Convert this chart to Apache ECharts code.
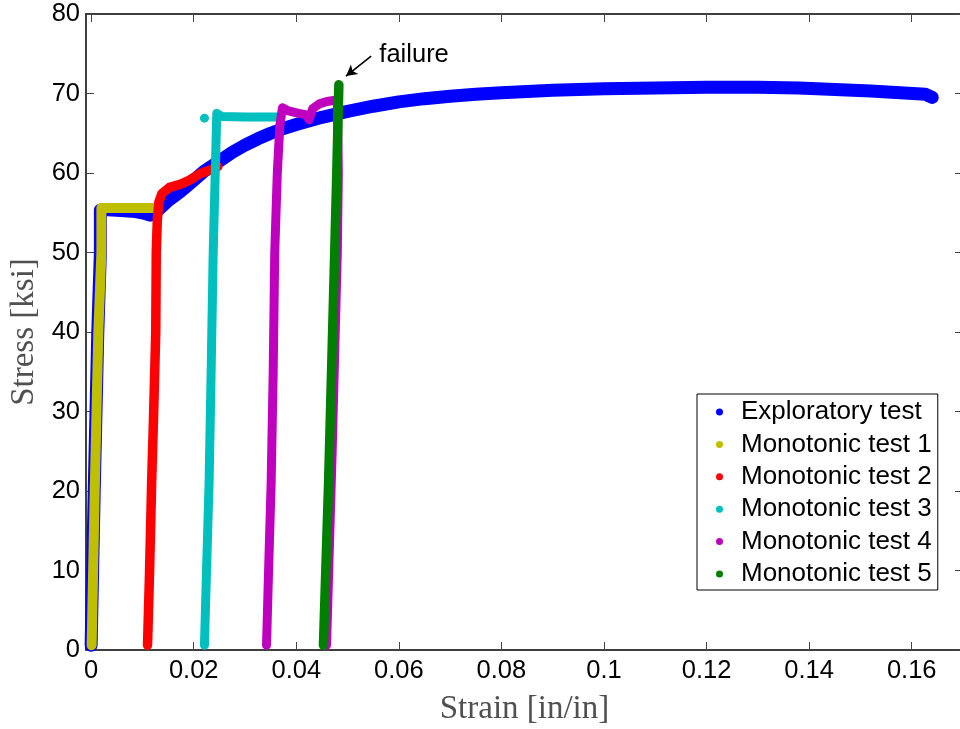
<!DOCTYPE html>
<html>
<head>
<meta charset="utf-8">
<script src="https://cdn.jsdelivr.net/npm/echarts@6/dist/echarts.min.js"></script>
<style>
  html, body { margin: 0; padding: 0; background: #fff; }
  #chart { width: 960px; height: 729px; }
</style>
</head>
<body>
<div id="chart"></div>
<script>
// Stress–strain records, [strain (in/in), stress (ksi)]
const exploratoryTest = [
  [0, 0.6], [0.0006, 20], [0.0013, 40], [0.0018, 50],
  [0.0018, 55.3], [0.0025, 55.4], [0.005, 55.3], [0.008, 55.2], [0.010, 55.0],
  [0.0115, 54.7], [0.0125, 55.0], [0.015, 56.5], [0.0173, 57.6], [0.0186, 58.3],
  [0.022, 60.2], [0.025, 61.5], [0.0275, 62.6], [0.03, 63.5], [0.0325, 64.3],
  [0.035, 65.0], [0.0375, 65.6], [0.04, 66.1], [0.045, 67.0], [0.05, 67.75],
  [0.055, 68.4], [0.06, 68.95], [0.065, 69.35], [0.07, 69.65], [0.075, 69.9],
  [0.08, 70.1], [0.09, 70.4], [0.1, 70.6], [0.11, 70.7], [0.12, 70.8],
  [0.13, 70.8], [0.138, 70.7], [0.145, 70.5], [0.152, 70.3], [0.1627, 69.9],
  [0.164, 69.5]
];
const monotonic1 = [
  [0.0001, 0.6], [0.0007, 20], [0.0014, 40], [0.002, 50], [0.002, 55.6],
  [0.004, 55.6], [0.008, 55.6], [0.0124, 55.6]
];
const monotonic2 = [
  [0.011, 0.6], [0.0114, 10], [0.0118, 21], [0.0122, 30], [0.0126, 40],
  [0.0127, 50], [0.0129, 54], [0.0132, 56.3], [0.0138, 57.4], [0.0153, 58.2],
  [0.0175, 58.6], [0.0192, 59.1], [0.0212, 59.9], [0.0238, 60.5], [0.0247, 60.8]
];
const monotonic3 = [
  [0.0221, 0.6], [0.0225, 10], [0.023, 21], [0.0234, 35], [0.0238, 50],
  [0.0242, 60], [0.0245, 67.5], [0.0255, 67.1], [0.03, 67.05], [0.0364, 67.05]
];
const monotonic3Stray = [0.0221, 66.9];
const monotonic4 = [
  [0.0342, 0.6], [0.0346, 10], [0.0351, 21], [0.0355, 35], [0.0358, 50],
  [0.0363, 60], [0.0368, 66], [0.0373, 68.2], [0.0385, 67.8], [0.0405, 67.5],
  [0.042, 67.3], [0.0425, 66.7], [0.0432, 68.1], [0.0445, 68.7], [0.046, 69.0],
  [0.048, 69.2], [0.0482, 60], [0.048, 50], [0.047, 25], [0.0459, 0.6]
];
const monotonic5 = [
  [0.0453, 0.6], [0.0463, 21], [0.0475, 50], [0.0479, 60], [0.0483, 71.1]
];

const seriesNames = [
  'Exploratory test', 'Monotonic test 1', 'Monotonic test 2',
  'Monotonic test 3', 'Monotonic test 4', 'Monotonic test 5'
];
const seriesColors = ['#0000ff', '#bfbf00', '#ff0000', '#00bfbf', '#bf00bf', '#007f00'];

const xTicks = [0, 0.02, 0.04, 0.06, 0.08, 0.1, 0.12, 0.14, 0.16];
const failureArrow = [[0.0546, 74.7], [0.0497, 72.2]];
const failureLabelAt = [0.0561, 74.8];

const tickFont = 'Liberation Sans, Arial, sans-serif';
const titleFont = 'Liberation Serif, Times New Roman, serif';

function lineSeries(name, data, color, width, extra) {
  return Object.assign({
    name: name,
    type: 'line',
    data: data,
    showSymbol: false,
    symbol: 'circle',
    clip: false,
    animation: false,
    itemStyle: { color: color },
    lineStyle: { color: color, width: width, cap: 'round', join: 'round' },
    emphasis: { disabled: true }
  }, extra || {});
}

const chart = echarts.init(document.getElementById('chart'), null, { renderer: 'canvas' });

const xAxisBase = {
  type: 'value', min: -0.001, max: 0.17,
  splitLine: { show: false },
  axisLine: { show: true, onZero: false, lineStyle: { color: '#000', width: 1.5 } },
  axisTick: { show: true, inside: true, length: 8, customValues: xTicks,
              lineStyle: { color: '#444', width: 1 } }
};
const yAxisBase = {
  type: 'value', min: 0, max: 80, interval: 10,
  splitLine: { show: false },
  axisLine: { show: true, onZero: false, lineStyle: { color: '#000', width: 1.5 } },
  axisTick: { show: true, inside: true, length: 8, lineStyle: { color: '#444', width: 1 } }
};

chart.setOption({
  backgroundColor: '#fff',
  animation: false,
  grid: { left: 86, top: 14, width: 877, height: 636, outerBoundsMode: 'none', containLabel: false },
  legend: {
    orient: 'vertical',
    left: 697, top: 394,
    backgroundColor: '#fff',
    borderColor: '#000', borderWidth: 1,
    padding: [5, 6, 3, 19],
    icon: 'circle',
    itemWidth: 33, itemHeight: 7, itemGap: 6.4,
    textStyle: { fontFamily: tickFont, fontSize: 26, lineHeight: 26, color: '#000' },
    data: seriesNames,
    selectedMode: false
  },
  xAxis: [
    Object.assign({}, xAxisBase, {
      position: 'bottom',
      name: 'Strain [in/in]', nameLocation: 'middle', nameGap: 43,
      nameTextStyle: { fontFamily: titleFont, fontSize: 33, color: '#505050' },
      axisLabel: { show: true, customValues: xTicks, margin: 8,
                   fontFamily: tickFont, fontSize: 25.5, color: '#000' }
    }),
    Object.assign({}, xAxisBase, { position: 'top', axisLabel: { show: false } })
  ],
  yAxis: [
    Object.assign({}, yAxisBase, {
      position: 'left',
      name: 'Stress [ksi]', nameLocation: 'middle', nameGap: 34,
      nameTextStyle: { fontFamily: titleFont, fontSize: 33, color: '#505050' },
      axisLabel: { show: true, margin: 6, fontFamily: tickFont, fontSize: 25.5, color: '#000' }
    }),
    Object.assign({}, yAxisBase, { position: 'right', axisLabel: { show: false } })
  ],
  series: [
    lineSeries(seriesNames[0], exploratoryTest, seriesColors[0], 13),
    lineSeries(seriesNames[1], monotonic1, seriesColors[1], 10),
    lineSeries(seriesNames[2], monotonic2, seriesColors[2], 9.5),
    lineSeries(seriesNames[3],
      monotonic3.concat([null, { value: monotonic3Stray, symbolSize: 9 }]),
      seriesColors[3], 9,
      { showSymbol: true, symbolSize: 0, connectNulls: false }),
    lineSeries(seriesNames[4], monotonic4, seriesColors[4], 9),
    lineSeries(seriesNames[5], monotonic5, seriesColors[5], 9.5, {
      markLine: {
        silent: true, animation: false,
        symbol: ['none', 'arrow'], symbolSize: [9, 11],
        lineStyle: { color: '#000', width: 1.6, type: 'solid' },
        label: { show: false },
        emphasis: { disabled: true },
        data: [[{ coord: failureArrow[0] }, { coord: failureArrow[1] }]]
      },
      markPoint: {
        silent: true, animation: false,
        symbol: 'circle', symbolSize: 1,
        itemStyle: { color: 'rgba(0,0,0,0)' },
        label: { show: true, formatter: 'failure', position: 'right', distance: 0,
                 fontFamily: tickFont, fontSize: 25.5, color: '#000' },
        emphasis: { disabled: true },
        data: [{ coord: failureLabelAt }]
      }
    })
  ]
});
</script>
</body>
</html>
